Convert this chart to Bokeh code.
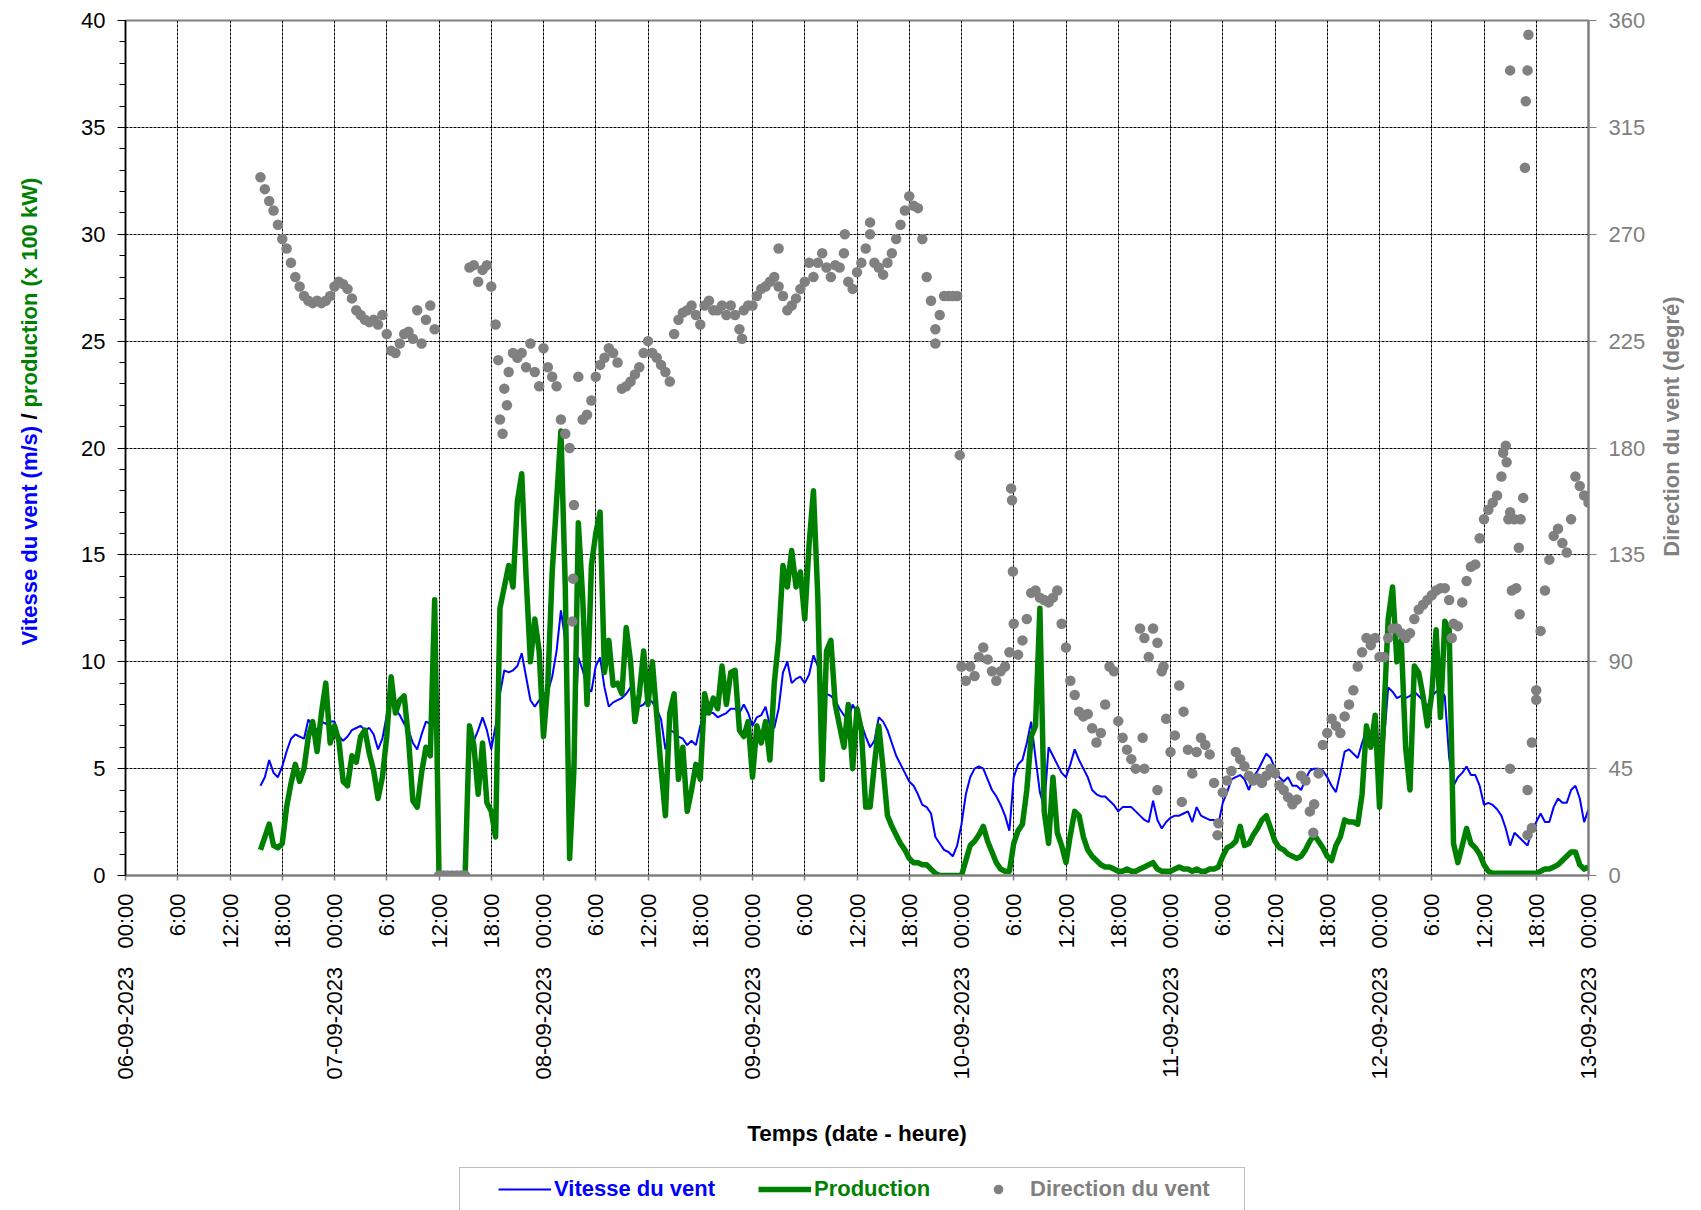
import numpy as np
import pandas as pd
from bokeh.plotting import figure
from bokeh.models import Range1d, LinearAxis, FixedTicker, Legend, LegendItem
from bokeh.layouts import row, column
from bokeh.embed import file_html
from bokeh.resources import INLINE
from bokeh.core.properties import value

FONT = "Liberation Sans"
BLUE = "#0000FF"
GREEN = "#008000"
GRAY = "#808080"

# ---------------- data (30-min samples) ----------------
origin = pd.Timestamp("2023-09-06 00:00")
first_sample = pd.Timestamp("2023-09-06 15:30")
sample_step_h = 0.5

# wind speed (m/s), one row = 6 h (12 samples), first row starts 06-09 15:30
wind_speed = [
    4.2, 4.6, 5.4, 4.8, 4.6,
    5.1, 5.8, 6.4, 6.6, 6.5, 6.4, 7.3, 7.0, 6.8, 7.2, 7.1, 7.2,
    7.2, 6.5, 6.3, 6.5, 6.8, 6.9, 7.0, 6.8, 6.9, 6.6, 5.9, 6.4,
    7.5, 8.1, 7.8, 7.5, 7.1, 6.8, 6.2, 5.9, 6.6, 7.2, 7.1, 7.0,
    None, None, None, None, None, None, None, 5.9, 6.3, 6.8, 7.4, 6.8,
    5.9, 7.0, 8.5, 9.6, 9.5, 9.6, 9.8, 10.4, 9.3, 8.2, 7.9, 8.2,
    8.5, 8.6, 9.3, 10.5, 12.4, 11.0, 3.0, 6.0, 10.2, 9.6, 8.8, 8.6,
    9.8, 10.2, 8.8, 7.9, 8.1, 8.2, 8.3, 8.5, 8.8, 8.2, 7.9, 8.0,
    8.3, 8.1, 7.8, 7.3, 5.9, 6.8, 6.7, 6.5, 6.4, 6.1, 6.3, 6.1,
    7.0, 7.5, 7.6, 7.6, 7.4, 7.5, 7.6, 7.8, 7.8, 7.6, 8.0, 7.6,
    7.0, 7.4, 7.5, 7.9, 7.0, 6.9, 7.8, 9.5, 10.0, 9.0, 9.2, 9.3,
    9.0, 9.4, 10.3, 9.8, 8.7, 8.5, 8.4, 8.2, 7.8, 7.5, 7.3, 8.0,
    7.6, 7.1, 6.5, 6.0, 6.3, 7.4, 7.2, 6.8, 6.2, 5.6, 5.2, 4.8,
    4.4, 4.2, 3.8, 3.3, 3.2, 2.9, 1.8, 1.5, 1.2, 1.1, 0.9, 1.4,
    2.4, 3.8, 4.6, 5.0, 5.1, 5.0, 4.5, 4.0, 3.7, 3.3, 2.8, 2.1,
    4.6, 5.2, 5.4, 6.2, 7.2, 5.5, 3.9, 3.2, 6.0, 5.6, 5.2, 4.8,
    4.6, 5.2, 5.9, 5.4, 5.0, 4.6, 4.0, 3.8, 3.7, 3.7, 3.5, 3.3,
    3.0, 3.2, 3.2, 3.2, 3.0, 2.8, 2.6, 2.5, 3.5, 2.6, 2.2, 2.5,
    2.7, 2.8, 2.8, 2.9, 3.0, 2.5, 3.2, 2.8, 2.7, 2.6, 2.6, 2.4,
    3.4, 3.9, 4.5, 4.6, 4.7, 4.5, 4.0, 4.6, 4.9, 5.3, 5.7, 5.5,
    5.0, 4.6, 4.4, 4.6, 4.2, 4.2, 4.0, 4.5, 4.9, 5.0, 5.0, 4.9,
    4.6, 4.2, 3.9, 4.8, 5.8, 5.9, 5.7, 5.5, 6.2, 6.8, 6.0, 6.4,
    5.4, 6.2, 8.8, 8.6, 8.3, 8.4, 8.3, 8.4, 8.6, 8.4, 8.2, 7.9,
    8.4, 8.6, 8.7, 8.4, 5.5, 4.2, 4.6, 4.8, 5.1, 4.7, 4.7, 4.2,
    3.3, 3.4, 3.3, 3.1, 2.8, 2.2, 1.4, 2.0, 1.8, 1.6, 1.4, 2.1,
    2.5, 2.9, 2.5, 2.5, 3.2, 3.6, 3.4, 3.4, 4.0, 4.2, 3.6, 2.5,
    3.1,
]

# production (x 100 kW)
production = [
    1.2, 1.8, 2.4, 1.4, 1.3,
    1.5, 3.2, 4.3, 5.2, 4.4, 5.0, 6.5, 7.2, 5.8, 7.6, 9.0, 6.2,
    7.0, 6.3, 4.4, 4.2, 5.6, 5.3, 6.5, 6.8, 5.7, 4.9, 3.6, 4.6,
    6.5, 9.3, 7.6, 8.2, 8.4, 6.4, 3.5, 3.2, 4.8, 6.0, 5.6, 12.9,
    0.0, 0.0, 0.0, 0.0, 0.0, 0.0, 0.0, 7.0, 6.1, 3.8, 6.2, 3.4,
    3.0, 1.8, 12.5, 13.5, 14.5, 13.5, 17.5, 18.8, 14.0, 10.0, 12.0, 10.5,
    6.5, 9.0, 14.2, 17.5, 20.8, 13.5, 0.8, 5.0, 16.5, 13.0, 8.0, 14.5,
    16.0, 17.0, 9.5, 11.0, 8.9, 9.0, 8.5, 11.6, 10.0, 7.2, 8.5, 10.5,
    8.0, 10.0, 7.5, 5.0, 2.8, 7.6, 8.5, 4.5, 6.0, 3.0, 4.0, 5.2,
    4.5, 8.5, 7.6, 8.3, 7.8, 9.8, 8.0, 9.5, 9.6, 6.8, 6.5, 7.2,
    4.6, 7.0, 6.2, 7.2, 5.4, 9.0, 11.0, 14.5, 13.5, 15.2, 13.5, 14.2,
    12.0, 15.5, 18.0, 13.0, 4.5, 10.5, 11.0, 8.0, 7.0, 6.0, 8.0, 5.0,
    7.8, 6.8, 3.2, 3.2, 5.2, 7.0, 5.0, 2.8, 2.3, 1.9, 1.5, 1.2,
    0.8, 0.6, 0.6, 0.5, 0.5, 0.3, 0.1, 0.0, 0.0, 0.0, 0.0, 0.0,
    0.0, 0.7, 1.4, 1.6, 1.9, 2.3, 1.6, 1.1, 0.6, 0.3, 0.2, 0.2,
    1.5, 2.1, 2.4, 4.0, 6.5, 7.0, 12.5, 3.0, 1.5, 4.6, 2.0, 1.4,
    0.6, 1.9, 3.0, 2.8, 1.8, 1.2, 0.9, 0.7, 0.5, 0.4, 0.4, 0.3,
    0.2, 0.2, 0.3, 0.2, 0.2, 0.3, 0.4, 0.5, 0.6, 0.3, 0.2, 0.2,
    0.2, 0.3, 0.4, 0.3, 0.3, 0.2, 0.3, 0.2, 0.2, 0.3, 0.3, 0.4,
    0.9, 1.3, 1.4, 1.6, 2.3, 1.4, 1.5, 1.9, 2.2, 2.6, 2.8, 2.2,
    1.6, 1.3, 1.2, 1.0, 0.9, 0.8, 0.9, 1.2, 1.6, 1.9, 1.6, 1.3,
    0.9, 0.7, 1.4, 1.8, 2.6, 2.5, 2.5, 2.4, 3.8, 7.0, 6.0, 7.5,
    3.2, 7.5, 12.0, 13.5, 10.0, 11.0, 6.0, 4.0, 9.8, 9.5, 8.4, 7.0,
    8.5, 11.5, 7.4, 11.9, 11.5, 1.5, 0.6, 1.4, 2.2, 1.5, 1.3, 1.0,
    0.5, 0.2, 0.1, 0.1, 0.1, 0.1, 0.1, 0.1, 0.1, 0.1, 0.1, 0.1,
    0.1, 0.2, 0.3, 0.3, 0.4, 0.5, 0.7, 0.9, 1.1, 1.1, 0.5, 0.3,
    0.4,
]

# wind direction (degrees)
wind_direction = [
    294, 289, 284, 280, 274,
    268, 264, 258, 252, 248, 244, 242, 241, 242, 241, 242, 244,
    248, 250, 249, 247, 243, 238, 236, 234, 233, 234, 232, 236,
    228, 221, 220, 224, 228, 229, 226, 238, 224, 234, 240, 230,
    0, 0, 0, 0, 0, 0, 0, 256, 257, 250, 255, 257,
    248, 232, 192, 205, 212, 220, 218, 220, 214, 224, 212, 206,
    222, 214, 210, 206, 192, 186, 180, 156, 210, 192, 194, 200,
    210, 215, 218, 222, 220, 216, 205, 206, 208, 211, 214, 220,
    225, 220, 218, 215, 212, 208, 228, 234, 237, 238, 240, 236,
    232, 240, 242, 238, 238, 240, 236, 240, 236, 230, 238, 240,
    240, 244, 247, 248, 250, 252, 248, 244, 238, 240, 243, 247,
    250, 258, 252, 258, 262, 256, 252, 257, 256, 262, 250, 247,
    254, 258, 264, 270, 258, 256, 253, 258, 262, 268, 274, 280,
    286, 282, 281, 268, 252, 242, 230, 236, 244, 244, 244, 244,
    88, 82, 88, 84, 92, 96, 91, 86, 82, 86, 88, 94,
    106, 93, 99, 108, 119, 120, 117, 116, 115, 117, 120, 106,
    96, 82, 76, 69, 67, 68, 62, 56, 60, 72, 88, 86,
    65, 58, 53, 49, 45, 104, 100, 92, 104, 98, 86, 66,
    52, 59, 80, 69, 53, 43, 52, 58, 55, 51, 39, 22,
    35, 40, 44, 52, 49, 46, 42, 40, 41, 39, 42, 45,
    43, 38, 36, 33, 30, 32, 42, 40, 27, 30, 43, 55,
    60, 66, 63, 60, 67, 72, 78, 88, 94, 100, 97, 100,
    92, 92, 100, 104, 104, 102, 100, 102, 108, 112, 114, 116,
    118, 120, 121, 121, 116, 106, 105, 115, 124, 130, 131, 142,
    150, 154, 157, 160, 168, 181, 153, 150, 138, 159, 36, 20,
    74, 103, 120, 133, 143, 146, 140, 136, 150, 168, 164, 160,
    157,
]

# isolated extra direction readings (hours after 06-09-2023 00:00, degrees)
direction_extra_hours = [42.8, 43.3, 43.8, 51.3, 51.4, 70.8, 75.0, 82.6, 85.5, 93.0,
                         95.8, 101.7, 101.8, 101.9, 116.8, 117.0, 118.5, 119.2, 121.3, 125.4,
                         136.4, 152.3, 158.2, 158.6, 158.8, 159.0, 159.0, 159.2, 159.7, 160.1,
                         160.2, 160.7, 160.8, 161.0, 161.1, 161.0, 161.5, 162.0]
direction_extra_deg = [217, 186, 198, 107, 125, 226, 264, 270, 275, 224,
                       177, 163, 158, 128, 58, 45, 36, 88, 31, 17,
                       18, 100, 178, 174, 150, 339, 45, 120, 121, 110,
                       150, 298, 326, 339, 354, 17, 56, 78]

day_labels = ["06-09-2023", "07-09-2023", "08-09-2023", "09-09-2023",
              "10-09-2023", "11-09-2023", "12-09-2023", "13-09-2023"]
hour_labels = ["00:00", "6:00", "12:00", "18:00"]
left_ticks = [0, 5, 10, 15, 20, 25, 30, 35, 40]
right_ticks = [0, 45, 90, 135, 180, 225, 270, 315, 360]
series_names = ["Vitesse du vent", "Production", "Direction du vent"]

# ---------------- derived ----------------
t0 = (first_sample - origin) / pd.Timedelta(hours=1)


def hours_for(series):
    return t0 + sample_step_h * np.arange(len(series))


wind_arr = np.array(wind_speed, dtype=float)
prod_arr = np.array(production, dtype=float)
dir_arr = np.array(wind_direction, dtype=float)

x_ticks = [6 * i for i in range(4 * (len(day_labels) - 1) + 1)]
x_tick_labels = {}
for i, t in enumerate(x_ticks):
    part = i % 4
    if part == 0:
        x_tick_labels[float(t)] = day_labels[i // 4] + "\u00a0\u00a0\u00a0" + hour_labels[0]
    else:
        x_tick_labels[float(t)] = hour_labels[part]

# ---------------- layout geometry (pixels) ----------------
TOTAL_W, TOTAL_H = 1701, 1210
LEFT_W, RIGHT_W = 68, 53
MAIN_W = TOTAL_W - LEFT_W - RIGHT_W
TOP_H = 1150
LEG_H = TOTAL_H - TOP_H
FRAME_LEFT_PAGE, FRAME_TOP, FRAME_W, FRAME_H = 125, 20, 1463, 855
FRAME_BOTTOM_PAGE = FRAME_TOP + FRAME_H
BOTTOM_BORDER = TOP_H - FRAME_TOP - FRAME_H


def bare(width, height, x_end, y_end, top=0, bottom=0):
    f = figure(width=width, height=height, x_range=Range1d(0, x_end), y_range=Range1d(0, y_end),
               output_backend="svg", toolbar_location=None, min_border=0,
               min_border_top=top, min_border_bottom=bottom,
               x_axis_location=None, y_axis_location=None, outline_line_color=None,
               background_fill_color="white", border_fill_color="white")
    f.grid.visible = False
    return f


# ---------------- main figure ----------------
p = figure(width=MAIN_W, height=TOP_H, x_range=Range1d(0, x_ticks[-1]), y_range=Range1d(0, 40),
           output_backend="svg", toolbar_location=None,
           min_border_left=FRAME_LEFT_PAGE - LEFT_W,
           min_border_right=MAIN_W - (FRAME_LEFT_PAGE - LEFT_W) - FRAME_W,
           min_border_top=FRAME_TOP, min_border_bottom=BOTTOM_BORDER,
           background_fill_color="white", border_fill_color="white",
           outline_line_color=GRAY, outline_line_width=2)
p.extra_y_ranges = {"dir": Range1d(0, 360)}

p.xgrid.ticker = FixedTicker(ticks=x_ticks)
p.ygrid.ticker = FixedTicker(ticks=left_ticks)
for g in (p.xgrid[0], p.ygrid[0]):
    g.grid_line_color = "black"
    g.grid_line_dash = "3 1"
    g.grid_line_width = 1

xa = p.xaxis[0]
xa.ticker = FixedTicker(ticks=x_ticks)
xa.major_label_overrides = x_tick_labels
xa.major_label_orientation = np.pi / 2
xa.major_label_text_font = FONT
xa.major_label_text_font_size = "22px"
xa.major_label_text_color = "black"
xa.major_label_standoff = 13
xa.axis_line_color = GRAY
xa.axis_line_width = 2
xa.major_tick_line_color = GRAY
xa.major_tick_line_width = 1.5
xa.major_tick_in = 0
xa.major_tick_out = 5
xa.minor_tick_line_color = None
xa.axis_label = "Temps (date - heure)"
xa.axis_label_text_font = FONT
xa.axis_label_text_font_style = "bold"
xa.axis_label_text_font_size = "22.5px"
xa.axis_label_text_color = "black"
xa.axis_label_standoff = 39

ya = p.yaxis[0]
ya.ticker = FixedTicker(ticks=left_ticks, minor_ticks=list(range(0, 41)))
ya.major_label_text_font = FONT
ya.major_label_text_font_size = "22px"
ya.major_label_text_color = "black"
ya.major_label_standoff = 12
ya.axis_line_color = "black"
ya.axis_line_width = 1.5
ya.major_tick_line_color = "black"
ya.major_tick_in = 0
ya.major_tick_out = 8
ya.minor_tick_line_color = "black"
ya.minor_tick_in = 0
ya.minor_tick_out = 6

ra = LinearAxis(y_range_name="dir", ticker=FixedTicker(ticks=right_ticks))
ra.major_label_text_font = FONT
ra.major_label_text_font_size = "22px"
ra.major_label_text_color = GRAY
ra.major_label_standoff = 12
ra.axis_line_color = GRAY
ra.axis_line_width = 2
ra.major_tick_line_color = GRAY
ra.major_tick_in = 0
ra.major_tick_out = 8
ra.minor_tick_line_color = None
p.add_layout(ra, "right")

p.line(hours_for(wind_arr), wind_arr, line_color=BLUE, line_width=2)
p.line(hours_for(prod_arr), prod_arr, line_color=GREEN, line_width=5.5, line_join="round")
p.scatter(hours_for(dir_arr), dir_arr, y_range_name="dir", size=10.5,
          fill_color=GRAY, line_color=None)
p.scatter(direction_extra_hours, direction_extra_deg, y_range_name="dir", size=10.5,
          fill_color=GRAY, line_color=None)

# ---------------- side titles (multi-coloured left title) ----------------
# side panels share the main frame's vertical extent; y = pixels above the frame bottom
title_kw = dict(angle=np.pi / 2, text_baseline="middle", text_font=value(FONT),
                text_font_style="bold", text_font_size="22px")
left = bare(LEFT_W, TOP_H, LEFT_W, FRAME_H, FRAME_TOP, BOTTOM_BORDER)
left.text(x=[29], y=[FRAME_BOTTOM_PAGE - 645], text=["Vitesse du vent (m/s)"],
          text_align="left", text_color=BLUE, **title_kw)
left.text(x=[29], y=[FRAME_BOTTOM_PAGE - 416], text=["/"], text_align="center",
          text_color="black", **title_kw)
left.text(x=[29], y=[FRAME_BOTTOM_PAGE - 407], text=["production (x 100 kW)"],
          text_align="left", text_color=GREEN, **title_kw)

right = bare(RIGHT_W, TOP_H, RIGHT_W, FRAME_H, FRAME_TOP, BOTTOM_BORDER)
right.text(x=[1671 - (TOTAL_W - RIGHT_W)], y=[FRAME_BOTTOM_PAGE - 426],
           text=["Direction du vent (degré)"], text_align="center", text_color=GRAY, **title_kw)

# ---------------- legend (box cut by the bottom edge, as in the reference) ----------------
leg = bare(TOTAL_W, LEG_H, TOTAL_W, LEG_H)
nan2 = [np.nan, np.nan]
sw_wind = leg.line(nan2, nan2, line_color=BLUE, line_width=2)
sw_prod = leg.line(nan2, nan2, line_color=GREEN, line_width=5.5)
sw_dir = leg.scatter(nan2, nan2, size=10, fill_color=GRAY, line_color=None)
sw_box = leg.scatter(nan2, nan2, alpha=0)

box = Legend(items=[LegendItem(label=" ", renderers=[sw_box])],
             location=(458.5, (TOTAL_H - 1169) - 60), orientation="horizontal",
             padding=0, margin=0, spacing=0, glyph_width=783, glyph_height=60,
             label_width=1, label_height=20, label_standoff=0, label_text_alpha=0,
             border_line_color=GRAY, border_line_width=1.5,
             background_fill_color="white", background_fill_alpha=1)
leg.add_layout(box)

leg_kw = dict(orientation="horizontal", padding=0, margin=0, spacing=0,
              glyph_height=24, label_height=24, border_line_color=None,
              background_fill_alpha=0, label_text_font=FONT,
              label_text_font_style="bold", label_text_font_size="22px")
for rend, lab, col, gx, gw, stand in [
        (sw_wind, series_names[0], BLUE, 498, 53, 3),
        (sw_prod, series_names[1], GREEN, 758, 53, 3),
        (sw_dir, series_names[2], GRAY, 986, 24, 20)]:
    lg = Legend(items=[LegendItem(label=lab, renderers=[rend])],
                location=(gx, 8), glyph_width=gw, label_standoff=stand,
                label_text_color=col, **leg_kw)
    leg.add_layout(lg)

layout = column(row(left, p, right), leg)
open("out.html", "w").write(file_html(layout, INLINE))
